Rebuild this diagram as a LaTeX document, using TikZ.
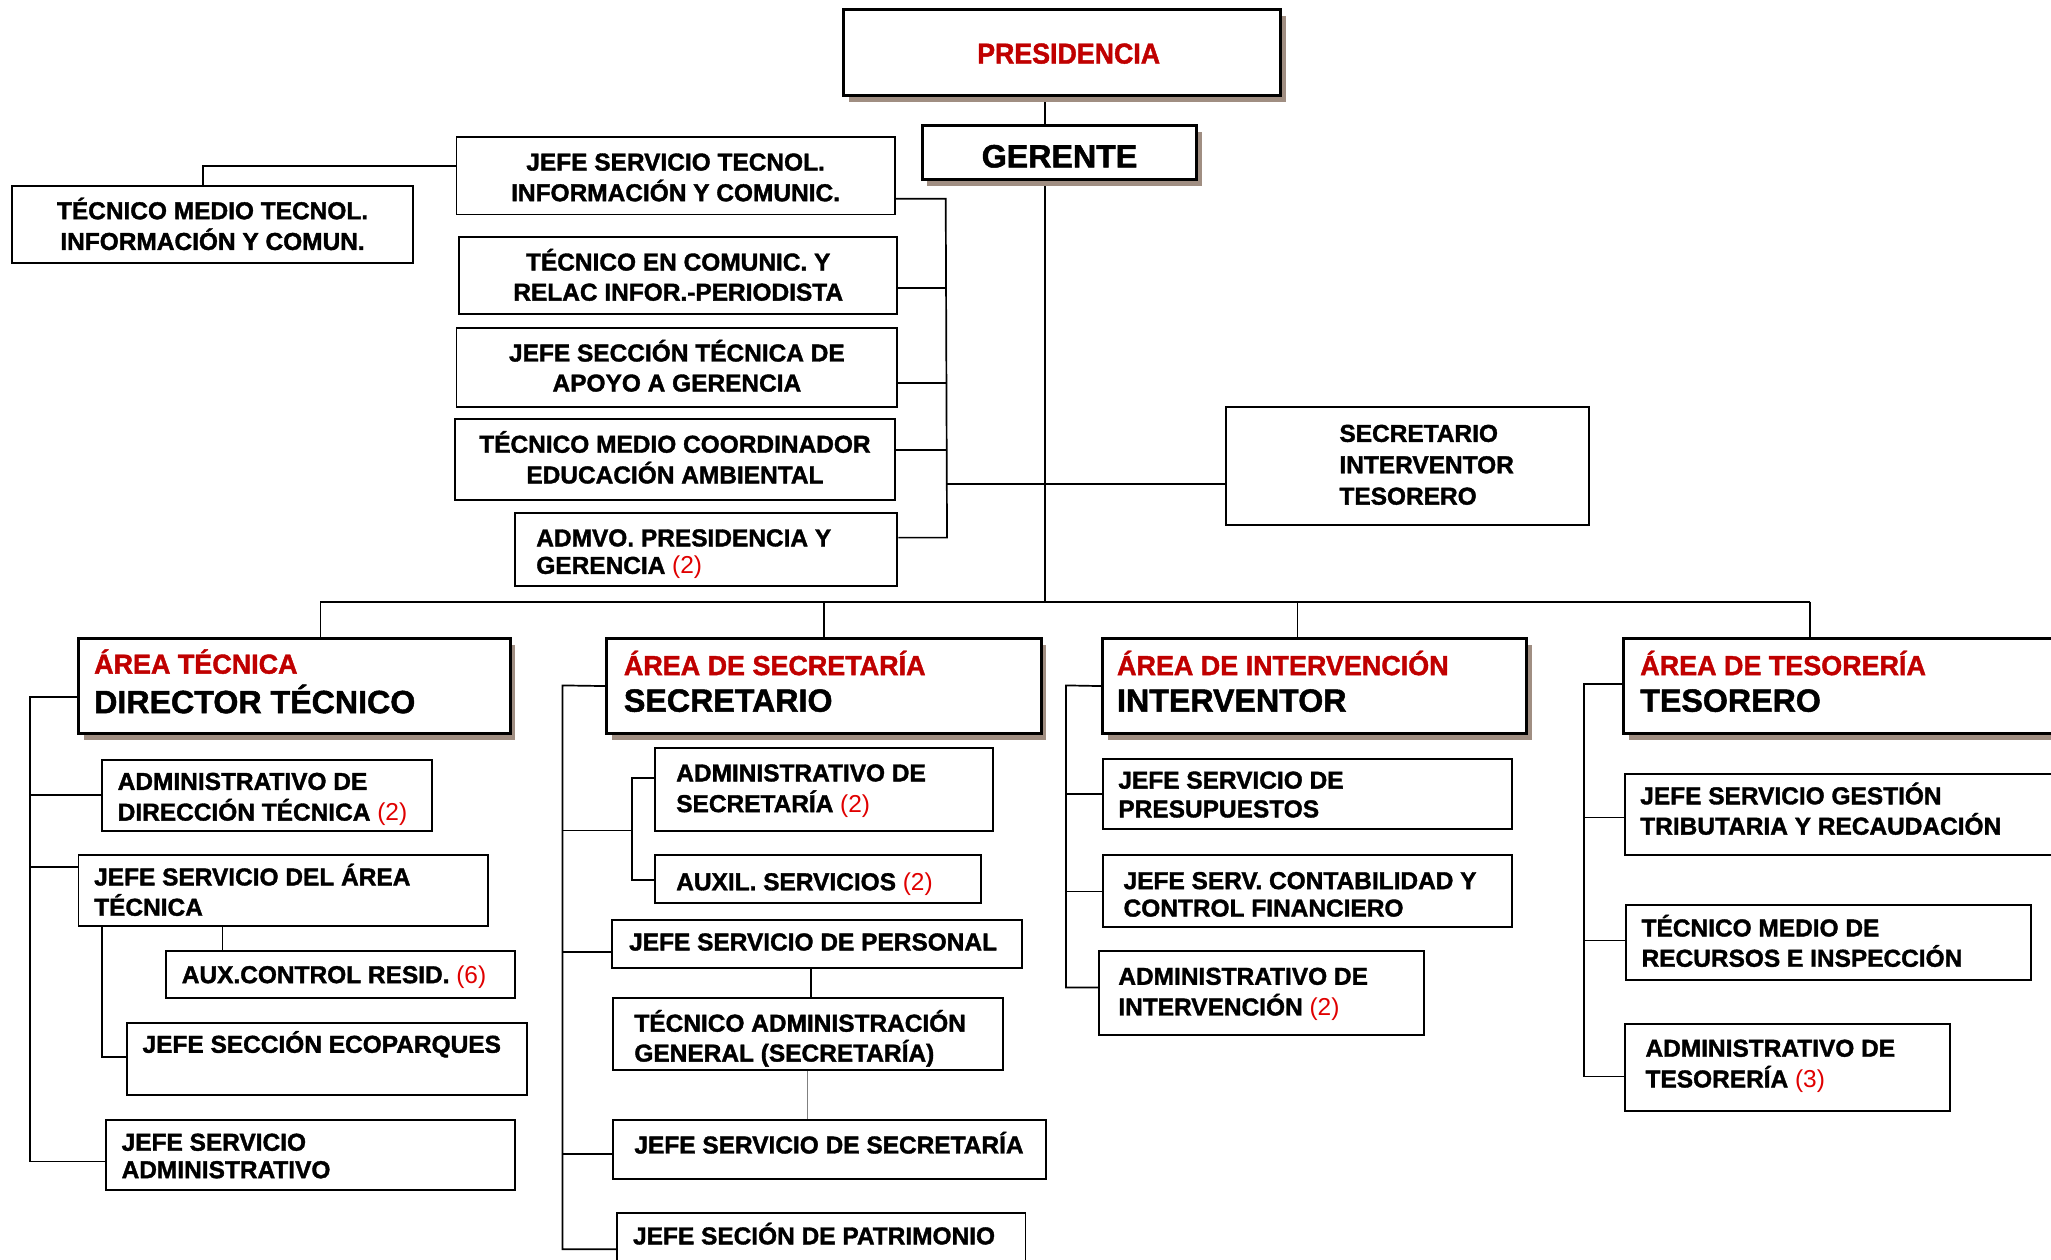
\documentclass[tikz,border=0pt]{standalone}
\usepackage{fontspec}
\setmainfont{Liberation Sans}[BoldFeatures={FakeBold=1.5}]
\usetikzlibrary{shadows,backgrounds}
\definecolor{tred}{HTML}{C00000}
\definecolor{nred}{HTML}{E00000}
\definecolor{shc}{HTML}{A08E82}
\newcommand\nm[1]{{\mdseries\color{nred}#1}}
\newcommand\ltab[1]{\begin{tabular}{@{}l@{}}#1\end{tabular}}
\newcommand\ctab[1]{\begin{tabular}{@{}c@{}}#1\end{tabular}}
\newcommand\lbx[3][3]{\makebox[#2pt][l]{\raisebox{-#1pt}[\height][\depth]{\ltab{#3}}}}
\newcommand\cbx[2][3]{\raisebox{-#1pt}[\height][\depth]{\ctab{#2}}}
\newcommand\rt[1]{{\fontsize{21}{28}\selectfont\color{tred}\scalebox{0.98}[1]{#1}}}
\begin{document}
\begin{tikzpicture}[x=1pt,y=-1pt,
  box/.style={draw, line width=1.5pt, fill=white, inner sep=0pt,
    font=\fontsize{18.7}{23}\selectfont\bfseries},
  fs/.style={font=\fontsize{18.7}{#1}\selectfont\bfseries},
  bigbox/.style={box, line width=2.2pt,
    general shadow={fill=shc, shadow xshift=4pt, shadow yshift=-5pt}},
  areabox/.style={bigbox, minimum height=73, font=\fontsize{24.6}{28}\selectfont\bfseries},
  conn/.style={line width=1.3pt}]
\useasboundingbox (0,0) rectangle (1568,963);

% top
\node[bigbox, minimum width=334, minimum height=66, font=\fontsize{22}{22}\selectfont\bfseries\color{tred}] (pres) at (812,40) {\hspace*{10pt}\raisebox{-1pt}[\height][\depth]{\scalebox{0.93}[1]{PRESIDENCIA}}};
\node[bigbox, minimum width=210, minimum height=41, font=\fontsize{24.6}{25}\selectfont\bfseries] (ger) at (810,116.5) {\raisebox{-3pt}[\height][\depth]{GERENTE}};

\node[box, minimum width=335, minimum height=59] (jst) at (516.5,134.5) {\cbx[3]{JEFE SERVICIO TECNOL.\\INFORMACIÓN Y COMUNIC.}};
\node[box, minimum width=307, minimum height=59] (tmt) at (162.5,171.5) {\cbx[3]{TÉCNICO MEDIO TECNOL.\\INFORMACIÓN Y COMUN.}};
\node[box, minimum width=335, minimum height=59] (tec) at (518.5,210.5) {\cbx[3]{TÉCNICO EN COMUNIC. Y\\RELAC INFOR.-PERIODISTA}};
\node[box, minimum width=337, minimum height=60] (jsec) at (517.5,281) {\cbx[2]{JEFE SECCIÓN TÉCNICA DE\\APOYO A GERENCIA}};
\node[box, minimum width=336, minimum height=62] (tmc) at (516,351) {\cbx[2]{TÉCNICO MEDIO COORDINADOR\\EDUCACIÓN AMBIENTAL}};
\node[box, fs=21, minimum width=292, minimum height=56] (adm) at (540,420) {\lbx[4]{260}{ADMVO. PRESIDENCIA Y\\GERENCIA \nm{(2)}}};
\node[box, fs=24, minimum width=278, minimum height=90] (sit) at (1076,356) {\lbx[1]{104}{SECRETARIO\\INTERVENTOR\\TESORERO}};

% areas
\node[areabox, minimum width=330] (at) at (225,524.5) {\lbx[0]{306}{\rt{ÁREA TÉCNICA}\\DIRECTOR TÉCNICO}};
\node[areabox, minimum width=332] (as) at (630,524.5) {\lbx[0]{306}{\rt{ÁREA DE SECRETARÍA}\\SECRETARIO}};
\node[areabox, minimum width=324] (ai) at (1005,524.5) {\lbx[0]{302}{\rt{ÁREA DE INTERVENCIÓN}\\INTERVENTOR}};
\node[areabox, minimum width=340] (ats) at (1411,524.5) {\lbx[0]{314}{\rt{ÁREA DE TESORERÍA}\\TESORERO}};

% tecnica
\node[box, minimum width=252, minimum height=54] (adt) at (204,608) {\lbx[3]{228}{ADMINISTRATIVO DE\\DIRECCIÓN TÉCNICA \nm{(2)}}};
\node[box, fs=22, minimum width=313, minimum height=54] (jsa) at (216.5,681) {\lbx[2.5]{289}{JEFE SERVICIO DEL ÁREA\\TÉCNICA}};
\node[box, minimum width=267, minimum height=36] (acr) at (260.5,745) {\lbx[2]{243}{AUX.CONTROL RESID. \nm{(6)}}};
\node[box, minimum width=306, minimum height=55] (jse) at (250,809.5) {\lbx[2]{282}{JEFE SECCIÓN ECOPARQUES\\ \mbox{}}};
\node[box, fs=21, minimum width=313, minimum height=54] (jsad) at (237.5,883) {\lbx[3]{289}{JEFE SERVICIO\\ADMINISTRATIVO}};

% secretaria
\node[box, minimum width=258, minimum height=63] (ads) at (630,603.5) {\lbx[1]{226}{ADMINISTRATIVO DE\\SECRETARÍA \nm{(2)}}};
\node[box, minimum width=249, minimum height=36] (aux) at (625.5,672) {\lbx[4]{217}{AUXIL. SERVICIOS \nm{(2)}}};
\node[box, minimum width=313, minimum height=37] (jsp) at (624.5,721.5) {\lbx[0.5]{287}{JEFE SERVICIO DE PERSONAL}};
\node[box, fs=21, minimum width=298, minimum height=55] (tag) at (618,790.5) {\lbx[4.5]{266}{TÉCNICO ADMINISTRACIÓN\\GENERAL (SECRETARÍA)}};
\node[box, minimum width=331, minimum height=45] (jss) at (634.5,878.5) {\lbx[-1.5]{299}{JEFE SERVICIO DE SECRETARÍA}};
\node[box, minimum width=312, minimum height=48] (jsp2) at (628,951) {\lbx[2]{288}{JEFE SECIÓN DE PATRIMONIO\\[-10pt] \mbox{}}};

% intervencion
\node[box, fs=22, minimum width=313, minimum height=54] (jspr) at (999.5,607) {\lbx[2.5]{289}{JEFE SERVICIO DE\\PRESUPUESTOS}};
\node[box, fs=21, minimum width=313, minimum height=55] (jsc) at (999.5,681.5) {\lbx[4.5]{281}{JEFE SERV. CONTABILIDAD Y\\CONTROL FINANCIERO}};
\node[box, minimum width=249, minimum height=64] (adi) at (964.5,759) {\lbx[1]{219}{ADMINISTRATIVO DE\\INTERVENCIÓN \nm{(2)}}};

% tesoreria
\node[box, fs=22, minimum width=338, minimum height=62] (jsg) at (1411,623) {\lbx[-1.5]{314}{JEFE SERVICIO GESTIÓN\\TRIBUTARIA Y RECAUDACIÓN}};
\node[box, fs=22, minimum width=310, minimum height=57] (tmr) at (1398,720.5) {\lbx[2]{286}{TÉCNICO MEDIO DE\\RECURSOS E INSPECCIÓN}};
\node[box, minimum width=249, minimum height=66] (adts) at (1366.5,816) {\lbx[-1]{217}{ADMINISTRATIVO DE\\TESORERÍA \nm{(3)}}};

\begin{pgfonlayer}{background}
% trunk
\draw[conn] (pres.center -| 799,0) -- (ger.center -| 799,0) -- (799,460);
% staff bracket
\draw[conn] (jst.west |- 0,127) -| (tmt.north -| 155,0);
\draw[conn] (jst.east |- 0,152) -- (723,152) -- (724,411) -- (adm.east |- 0,411);
\draw[conn] (tec.east |- 0,220) -- (724,220);
\draw[conn] (jsec.east |- 0,293) -- (723,293);
\draw[conn] (tmc.east |- 0,344) -- (723,344);
\draw[conn] (724,370) -- (sit.west |- 0,370);
% bus
\draw[conn] (245,460) -- (1384,460);
\draw[conn] (245,460) -- (at.north -| 245,0);
\draw[conn] (630,460) -- (as.north);
\draw[conn] (992,460) -- (ai.north -| 992,0);
\draw[conn] (1384,460) -- (ats.north -| 1384,0);
% tecnica
\draw[conn] (at.west |- 0,533) -- (23,533) -- (23,888) -- (jsad.west |- 0,888);
\draw[conn] (adt.west) -- (23,608);
\draw[conn] (jsa.west |- 0,663) -- (23,663);
\draw[conn] (jsa.south -| 170,0) -- (acr.north -| 170,0);
\draw[conn] (jsa.south -| 78,0) -- (78,808) -- (jse.west |- 0,808);
% secretaria
\draw[conn] (as.west) -- (430,524) -- (430,955) -- (jsp2.west |- 0,955);
\draw[conn] (430,635) -- (483,635);
\draw[conn] (ads.west |- 0,595) -- (483,595) -- (483,673) -- (aux.west |- 0,673);
\draw[conn] (jsp.west |- 0,728) -- (430,728);
\draw[conn] (jss.west |- 0,882) -- (430,882);
\draw[conn] (jsp.south -| 620,0) -- (tag.north -| 620,0);
\draw[line width=0.8pt, gray] (tag.south -| 617,0) -- (jss.north -| 617,0);
% intervencion
\draw[conn] (ai.west) -- (815,524) -- (815,755) -- (adi.west |- 0,755);
\draw[conn] (jspr.west) -- (815,607);
\draw[conn] (jsc.west) -- (815,681.5);
% tesoreria
\draw[conn] (ats.west |- 0,523) -- (1211,523) -- (1211,823) -- (adts.west |- 0,823);
\draw[conn] (jsg.west |- 0,625) -- (1211,625);
\draw[conn] (tmr.west |- 0,719) -- (1211,719);
\end{pgfonlayer}
\end{tikzpicture}
\end{document}
